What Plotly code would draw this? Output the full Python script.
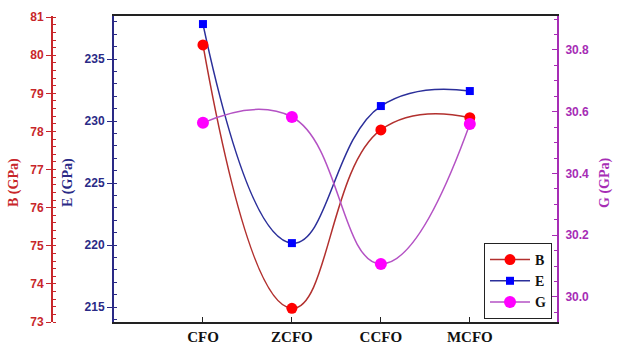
import plotly.graph_objects as go

# Samples and elastic moduli (GPa)
samples = ["CFO", "ZCFO", "CCFO", "MCFO"]
bulk_B = [80.27, 73.36, 78.04, 78.36]
young_E = [237.82, 220.16, 231.21, 232.42]
shear_G = [30.564, 30.583, 30.107, 30.56]

W, H = 618, 349
px_x = lambda p: p / W
px_y = lambda p: 1 - p / H

RED_AX = "#c8262a"
NAVY_AX = "#2a2a86"
PURP_AX = "#a62db5"

sans_b = dict(family="Liberation Sans", size=12, weight="bold")
serif_b = dict(family="Liberation Serif", size=14, weight="bold")

fig = go.Figure()

fig.add_trace(go.Scatter(
    x=samples, y=young_E, name="E", yaxis="y",
    mode="lines+markers", line=dict(color="#2b2f9a", width=1.5, shape="spline", smoothing=1.3),
    marker=dict(symbol="square", size=8, color="#0000ff"),
))
fig.add_trace(go.Scatter(
    x=samples, y=bulk_B, name="B", yaxis="y2",
    mode="lines+markers", line=dict(color="#b2302e", width=1.5, shape="spline", smoothing=1.3),
    marker=dict(symbol="circle", size=11, color="#ff0000"),
))
fig.add_trace(go.Scatter(
    x=samples, y=shear_G, name="G", yaxis="y3",
    mode="lines+markers", line=dict(color="#b452c4", width=1.5, shape="spline", smoothing=1.3),
    marker=dict(symbol="circle", size=12, color="#ff00ff"),
))

dom_y = [px_y(322), px_y(16)]

fig.update_layout(
    width=W, height=H,
    margin=dict(l=0, r=0, t=0, b=0),
    paper_bgcolor="white", plot_bgcolor="white",
    xaxis=dict(
        domain=[px_x(114), px_x(557)],
        type="category", range=[-1, 3.98],
        showline=True, linecolor="#222", linewidth=2, mirror=True,
        ticks="inside", ticklen=5, tickcolor="#222",
        tickfont=dict(family="Liberation Serif", size=15, weight="bold", color="#111"),
        showgrid=False, zeroline=False, automargin=False,
    ),
    yaxis=dict(
        domain=dom_y, range=[213.8, 238.47], dtick=5,
        side="left", anchor="x",
        showline=True, linecolor=NAVY_AX, linewidth=2,
        ticks="outside", ticklen=5, tickcolor=NAVY_AX,
        minor=dict(dtick=1, ticks="inside", ticklen=3, tickcolor=NAVY_AX),
        tickfont=dict(color=NAVY_AX, **sans_b),
        showgrid=False, zeroline=False, automargin=False,
    ),
    yaxis2=dict(
        domain=dom_y, range=[73, 81.03], dtick=1,
        overlaying="y", side="left", anchor="free", position=px_x(52),
        showline=True, linecolor=RED_AX, linewidth=2,
        ticks="outside", ticklen=5, tickcolor=RED_AX,
        minor=dict(dtick=0.2, ticks="inside", ticklen=3, tickcolor=RED_AX),
        tickfont=dict(color=RED_AX, **sans_b),
        showgrid=False, zeroline=False, automargin=False,
    ),
    yaxis3=dict(
        domain=dom_y, range=[29.919, 30.910], dtick=0.2, tickformat=".1f",
        overlaying="y", side="right", anchor="x",
        showline=True, linecolor=PURP_AX, linewidth=2,
        ticks="inside", ticklen=5, tickcolor=PURP_AX,
        minor=dict(dtick=0.05, ticks="inside", ticklen=3, tickcolor=PURP_AX),
        tickfont=dict(color=PURP_AX, **sans_b),
        ticklabelstandoff=4,
        showgrid=False, zeroline=False, automargin=False,
    ),
    legend=dict(
        x=px_x(552), y=px_y(243), xanchor="right", yanchor="top",
        bgcolor="white", bordercolor="#222", borderwidth=1,
        font=dict(family="Liberation Serif", size=14, weight="bold", color="#111"),
        traceorder="normal", itemwidth=40,
    ),
    showlegend=True,
)

# Axis titles
titles = [
    ("B (GPa)", 14, RED_AX),
    ("E (GPa)", 68, NAVY_AX),
    ("G (GPa)", 605, PURP_AX),
]
for text, xp, col in titles:
    fig.add_annotation(
        text=text, x=px_x(xp), y=px_y(183), xref="paper", yref="paper",
        showarrow=False, textangle=-90, xanchor="center", yanchor="middle",
        font=dict(family="Liberation Serif", size=14, weight="bold", color=col),
    )

# Legend order B, E, G
fig.data[0].legendrank = 2
fig.data[1].legendrank = 1
fig.data[2].legendrank = 3

fig.write_html("out.html")
